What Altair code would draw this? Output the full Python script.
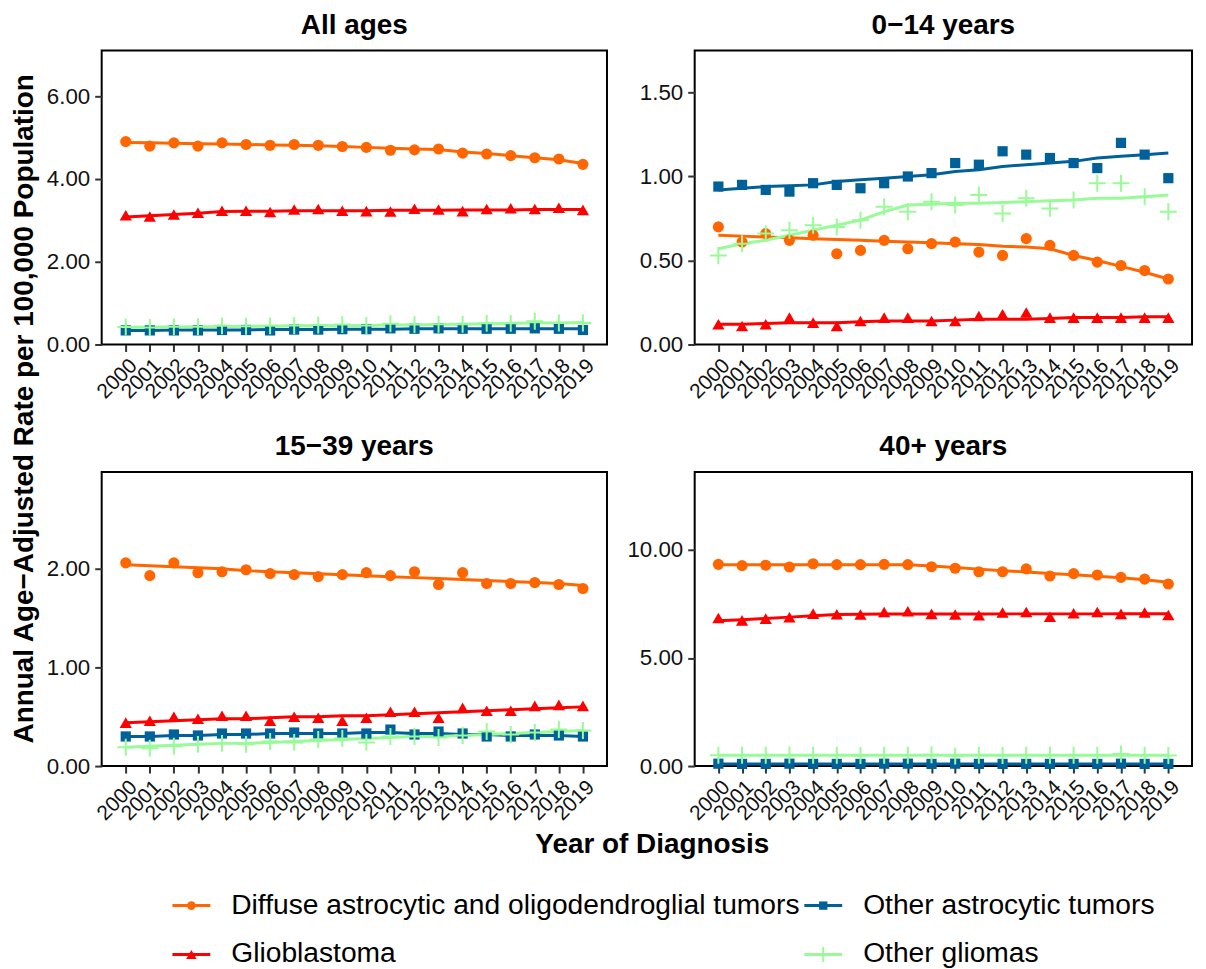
import altair as alt
import pandas as pd

FONT = "Liberation Sans"

years = list(range(2000, 2020))

S_DIF = "Diffuse astrocytic and oligodendroglial tumors"
S_GBM = "Glioblastoma"
S_OAT = "Other astrocytic tumors"
S_OGL = "Other gliomas"
series_names = [S_DIF, S_GBM, S_OAT, S_OGL]
series_colors = ["#FF6600", "#FF0000", "#00609A", "#98FB98"]
legend_order = [S_DIF, S_OAT, S_GBM, S_OGL]

panels = ["All ages", "0\u221214 years", "15\u221239 years", "40+ years"]

# ---- All ages ----
all_dif_pts = [4.90, 4.79, 4.87, 4.79, 4.87, 4.83, 4.81, 4.83, 4.81, 4.78, 4.76, 4.69, 4.70, 4.72, 4.62, 4.60, 4.56, 4.51, 4.48, 4.35]
all_dif_fit = [4.88, 4.87, 4.86, 4.85, 4.84, 4.83, 4.82, 4.81, 4.80, 4.78, 4.76, 4.74, 4.72, 4.71, 4.65, 4.61, 4.56, 4.51, 4.46, 4.37]
all_gbm_pts = [3.12, 3.09, 3.14, 3.18, 3.23, 3.23, 3.20, 3.26, 3.27, 3.23, 3.22, 3.21, 3.28, 3.26, 3.22, 3.27, 3.29, 3.27, 3.30, 3.25]
all_gbm_fit = [3.08, 3.11, 3.14, 3.17, 3.21, 3.22, 3.22, 3.23, 3.23, 3.23, 3.23, 3.24, 3.24, 3.24, 3.25, 3.25, 3.25, 3.26, 3.26, 3.26]
all_oat_pts = [0.34, 0.34, 0.34, 0.34, 0.35, 0.35, 0.34, 0.36, 0.36, 0.37, 0.37, 0.39, 0.38, 0.39, 0.38, 0.38, 0.38, 0.39, 0.38, 0.35]
all_oat_fit = [0.34, 0.34, 0.35, 0.35, 0.35, 0.35, 0.36, 0.36, 0.36, 0.37, 0.37, 0.37, 0.38, 0.38, 0.38, 0.38, 0.38, 0.38, 0.38, 0.38]
all_ogl_pts = [0.42, 0.41, 0.43, 0.43, 0.45, 0.44, 0.45, 0.46, 0.47, 0.48, 0.46, 0.50, 0.48, 0.49, 0.49, 0.51, 0.51, 0.56, 0.52, 0.52]
all_ogl_fit = [0.41, 0.42, 0.42, 0.43, 0.43, 0.44, 0.44, 0.45, 0.45, 0.46, 0.46, 0.47, 0.47, 0.48, 0.49, 0.50, 0.51, 0.52, 0.52, 0.53]

# ---- 0-14 years ----
kid_dif_pts = [0.70, 0.61, 0.66, 0.62, 0.65, 0.54, 0.56, 0.62, 0.57, 0.60, 0.61, 0.55, 0.53, 0.63, 0.59, 0.53, 0.49, 0.47, 0.44, 0.39]
kid_dif_fit = [0.65, 0.645, 0.64, 0.635, 0.63, 0.625, 0.62, 0.615, 0.61, 0.605, 0.60, 0.595, 0.585, 0.58, 0.57, 0.53, 0.50, 0.465, 0.43, 0.39]
kid_gbm_pts = [0.12, 0.11, 0.12, 0.16, 0.13, 0.11, 0.14, 0.16, 0.16, 0.14, 0.14, 0.17, 0.18, 0.19, 0.16, 0.16, 0.16, 0.16, 0.16, 0.16]
kid_gbm_fit = [0.12, 0.12, 0.125, 0.13, 0.13, 0.13, 0.135, 0.14, 0.14, 0.14, 0.145, 0.15, 0.15, 0.15, 0.155, 0.16, 0.16, 0.16, 0.165, 0.165]
kid_oat_pts = [0.94, 0.95, 0.92, 0.91, 0.96, 0.95, 0.93, 0.96, 1.00, 1.02, 1.08, 1.07, 1.15, 1.13, 1.11, 1.08, 1.05, 1.20, 1.13, 0.99]
kid_oat_fit = [0.92, 0.93, 0.94, 0.945, 0.95, 0.97, 0.98, 0.99, 1.00, 1.01, 1.03, 1.04, 1.06, 1.07, 1.08, 1.09, 1.11, 1.12, 1.13, 1.14]
kid_ogl_pts = [0.53, 0.60, 0.66, 0.68, 0.71, 0.70, 0.74, 0.82, 0.79, 0.85, 0.83, 0.89, 0.78, 0.87, 0.81, 0.86, 0.96, 0.96, 0.88, 0.79]
kid_ogl_fit = [0.57, 0.60, 0.62, 0.65, 0.68, 0.71, 0.74, 0.79, 0.83, 0.835, 0.84, 0.84, 0.845, 0.85, 0.855, 0.86, 0.87, 0.87, 0.88, 0.89]

# ---- 15-39 years ----
aya_dif_pts = [2.06, 1.93, 2.06, 1.96, 1.97, 1.99, 1.95, 1.94, 1.92, 1.94, 1.96, 1.93, 1.97, 1.84, 1.96, 1.85, 1.85, 1.86, 1.84, 1.80]
aya_dif_fit = [2.04, 2.03, 2.02, 2.01, 2.00, 1.98, 1.97, 1.96, 1.95, 1.94, 1.93, 1.92, 1.91, 1.90, 1.89, 1.88, 1.87, 1.86, 1.85, 1.83]
aya_gbm_pts = [0.44, 0.46, 0.50, 0.48, 0.51, 0.51, 0.46, 0.50, 0.49, 0.46, 0.49, 0.55, 0.55, 0.49, 0.59, 0.56, 0.56, 0.61, 0.62, 0.61]
aya_gbm_fit = [0.44, 0.45, 0.46, 0.47, 0.48, 0.48, 0.49, 0.50, 0.50, 0.51, 0.51, 0.52, 0.53, 0.54, 0.55, 0.56, 0.57, 0.58, 0.59, 0.60]
aya_oat_pts = [0.30, 0.30, 0.32, 0.31, 0.33, 0.33, 0.33, 0.34, 0.33, 0.33, 0.33, 0.37, 0.32, 0.35, 0.33, 0.30, 0.30, 0.32, 0.31, 0.30]
aya_oat_fit = [0.30, 0.30, 0.31, 0.31, 0.32, 0.32, 0.33, 0.33, 0.33, 0.33, 0.34, 0.34, 0.33, 0.33, 0.32, 0.32, 0.31, 0.31, 0.31, 0.30]
aya_ogl_pts = [0.19, 0.18, 0.20, 0.22, 0.23, 0.22, 0.25, 0.24, 0.27, 0.28, 0.24, 0.30, 0.30, 0.29, 0.31, 0.35, 0.32, 0.34, 0.37, 0.36]
aya_ogl_fit = [0.19, 0.20, 0.21, 0.22, 0.23, 0.23, 0.24, 0.25, 0.26, 0.27, 0.28, 0.29, 0.30, 0.30, 0.31, 0.32, 0.33, 0.34, 0.35, 0.36]

# ---- 40+ years ----
old_dif_pts = [9.33, 9.27, 9.29, 9.21, 9.36, 9.32, 9.32, 9.33, 9.32, 9.22, 9.15, 8.99, 8.99, 9.12, 8.79, 8.90, 8.84, 8.73, 8.65, 8.42]
old_dif_fit = [9.31, 9.31, 9.31, 9.31, 9.31, 9.31, 9.31, 9.31, 9.31, 9.26, 9.19, 9.11, 9.04, 8.98, 8.91, 8.85, 8.78, 8.71, 8.62, 8.50]
old_gbm_pts = [6.85, 6.74, 6.82, 6.88, 7.05, 7.02, 7.01, 7.13, 7.16, 7.04, 7.01, 6.98, 7.10, 7.13, 6.91, 7.07, 7.13, 7.04, 7.10, 6.99]
old_gbm_fit = [6.72, 6.77, 6.83, 6.89, 6.95, 7.01, 7.02, 7.03, 7.03, 7.03, 7.03, 7.03, 7.04, 7.04, 7.04, 7.04, 7.04, 7.05, 7.05, 7.05]
old_oat_pts = [0.11, 0.10, 0.10, 0.11, 0.10, 0.10, 0.10, 0.11, 0.11, 0.10, 0.11, 0.10, 0.10, 0.10, 0.10, 0.10, 0.10, 0.11, 0.10, 0.10]
old_oat_fit = [0.10, 0.10, 0.10, 0.10, 0.10, 0.10, 0.10, 0.10, 0.10, 0.10, 0.10, 0.10, 0.10, 0.10, 0.10, 0.10, 0.10, 0.10, 0.10, 0.10]
old_ogl_pts = [0.50, 0.50, 0.50, 0.51, 0.50, 0.50, 0.49, 0.50, 0.50, 0.52, 0.46, 0.50, 0.49, 0.50, 0.50, 0.50, 0.50, 0.56, 0.50, 0.49]
old_ogl_fit = [0.50, 0.50, 0.50, 0.50, 0.50, 0.50, 0.50, 0.50, 0.50, 0.50, 0.50, 0.50, 0.50, 0.50, 0.50, 0.50, 0.50, 0.50, 0.50, 0.50]

panel_data = {
    panels[0]: [(all_dif_pts, all_dif_fit), (all_gbm_pts, all_gbm_fit), (all_oat_pts, all_oat_fit), (all_ogl_pts, all_ogl_fit)],
    panels[1]: [(kid_dif_pts, kid_dif_fit), (kid_gbm_pts, kid_gbm_fit), (kid_oat_pts, kid_oat_fit), (kid_ogl_pts, kid_ogl_fit)],
    panels[2]: [(aya_dif_pts, aya_dif_fit), (aya_gbm_pts, aya_gbm_fit), (aya_oat_pts, aya_oat_fit), (aya_ogl_pts, aya_ogl_fit)],
    panels[3]: [(old_dif_pts, old_dif_fit), (old_gbm_pts, old_gbm_fit), (old_oat_pts, old_oat_fit), (old_ogl_pts, old_ogl_fit)],
}
y_max = {panels[0]: 7.1, panels[1]: 1.75, panels[2]: 2.98, panels[3]: 13.6}
y_ticks = {panels[0]: [0, 2, 4, 6], panels[1]: [0, 0.5, 1.0, 1.5], panels[2]: [0, 1, 2], panels[3]: [0, 5, 10]}

rows = []
for p in panels:
    for s, (pts, fit) in zip(series_names, panel_data[p]):
        for yr, v, f in zip(years, pts, fit):
            rows.append({"panel": p, "series": s, "year": yr, "value": v, "fit": f})
df = pd.DataFrame(rows)

PLUS = "M-1,0L1,0M0,-1L0,1"
marker = {
    S_DIF: dict(shape="circle", size=125, filled=True),
    S_GBM: dict(shape="triangle-up", size=150, filled=True),
    S_OAT: dict(shape="square", size=105, filled=True),
    S_OGL: dict(shape=PLUS, size=289, filled=False, strokeWidth=2),
}
color_scale = alt.Scale(domain=series_names, range=series_colors)

LEFT_W = 507
RIGHT_W = 499
H = 295


def title_params(p):
    return alt.TitleParams(p, fontSize=28, fontWeight="bold", font=FONT, anchor="middle",
                           baseline="bottom", offset=-17, color="black")


def panel_layers(p, with_y_title=False, with_x_title=False):
    d = df[df.panel == p]
    x_axis = alt.Axis(
        labelAngle=-45, labelAlign="right", labelBaseline="top",
        labelFontSize=21, labelColor="#111111", labelPadding=3,
        title="Year of Diagnosis" if with_x_title else None,
        titleFontSize=28, titleFontWeight="bold", titleColor="black",
        titleX=552, titleY=87, titleBaseline="alphabetic", titleAlign="center",
    )
    y_axis = alt.Axis(
        values=y_ticks[p], format=".2f", labelFontSize=22.4, labelColor="#111111", labelPadding=5,
        title="Annual Age\u2212Adjusted Rate per 100,000 Population" if with_y_title else None,
        titleFontSize=28, titleFontWeight="bold", titleColor="black",
        titleX=-77, titleY=359, titleAngle=270, titleBaseline="middle", titleAlign="center",
    )
    x = alt.X("year:O", scale=alt.Scale(type="point", padding=1), axis=x_axis)
    yscale = alt.Scale(domain=[0, y_max[p]], nice=False, zero=True)
    line = alt.Chart(d).mark_line(strokeWidth=3).encode(
        x=x,
        y=alt.Y("fit:Q", scale=yscale, axis=y_axis),
        color=alt.Color("series:N", scale=color_scale, legend=None),
    )
    layers = [line]
    for s in series_names:
        m = marker[s]
        kw = dict(shape=m["shape"], size=m["size"], filled=m["filled"], opacity=1)
        if not m["filled"]:
            kw["strokeWidth"] = m["strokeWidth"]
        pts = alt.Chart(d).transform_filter(alt.datum.series == s).mark_point(**kw).encode(
            x=x,
            y=alt.Y("value:Q", scale=yscale),
            color=alt.Color("series:N", scale=color_scale, legend=None),
        )
        layers.append(pts)
    return alt.layer(*layers)


# ---- custom legend (drawn below the bottom-left panel) ----
leg = pd.DataFrame({
    "series": legend_order,
    "col": [i % 2 for i in range(len(legend_order))],
    "row": [i // 2 for i in range(len(legend_order))],
})
lx = alt.X("col:Q", scale=alt.Scale(domain=[0, 1], range=[71, 705]), axis=None)
ly = alt.Y("row:Q", scale=alt.Scale(domain=[0, 1], range=[435, 484]), axis=None)
leg_rule = alt.Chart(leg).mark_rule(strokeWidth=3, x2Offset=38).encode(
    x=lx, x2="col:Q", y=ly, color=alt.Color("series:N", scale=color_scale, legend=None))
leg_layers = [leg_rule]
leg_marker = {
    S_DIF: dict(shape="circle", size=75, filled=True),
    S_GBM: dict(shape="triangle-up", size=110, filled=True),
    S_OAT: dict(shape="square", size=70, filled=True),
    S_OGL: dict(shape=PLUS, size=225, filled=False, strokeWidth=2),
}
for s in series_names:
    m = leg_marker[s]
    kw = dict(shape=m["shape"], size=m["size"], filled=m["filled"], opacity=1, xOffset=19)
    if not m["filled"]:
        kw["strokeWidth"] = m["strokeWidth"]
    leg_layers.append(
        alt.Chart(leg).transform_filter(alt.datum.series == s).mark_point(**kw).encode(
            x=lx, y=ly, color=alt.Color("series:N", scale=color_scale, legend=None))
    )
leg_text = alt.Chart(leg).mark_text(align="left", baseline="middle", dx=59, fontSize=28.3, font=FONT,
                                    color="black").encode(x=lx, y=ly, text="series:N")
leg_layers.append(leg_text)
legend_layer = alt.layer(*leg_layers)

p1 = panel_layers(panels[0], with_y_title=True).properties(width=LEFT_W, height=H, title=title_params(panels[0]))
p2 = panel_layers(panels[1]).properties(width=RIGHT_W, height=H, title=title_params(panels[1]))
p3 = alt.layer(
    panel_layers(panels[2], with_x_title=True),
    legend_layer,
).resolve_scale(x="independent", y="independent").properties(
    width=LEFT_W, height=H, title=title_params(panels[2]))
p4 = panel_layers(panels[3]).properties(width=RIGHT_W, height=H, title=title_params(panels[3]))

chart = alt.concat(
    p1, p2, p3, p4, columns=2, spacing={"row": 128, "column": 88}, bounds="flush"
).configure(
    font=FONT,
).configure_view(
    stroke="black", strokeWidth=2,
).configure_axis(
    domain=False, grid=False, ticks=True, tickColor="#333333", tickWidth=2, tickSize=7,
    labelFont=FONT, titleFont=FONT,
).properties(padding={"left": 1, "top": 1, "right": 5, "bottom": 0})

chart.save("out.html", embed_options={"renderer": "svg", "actions": False})
